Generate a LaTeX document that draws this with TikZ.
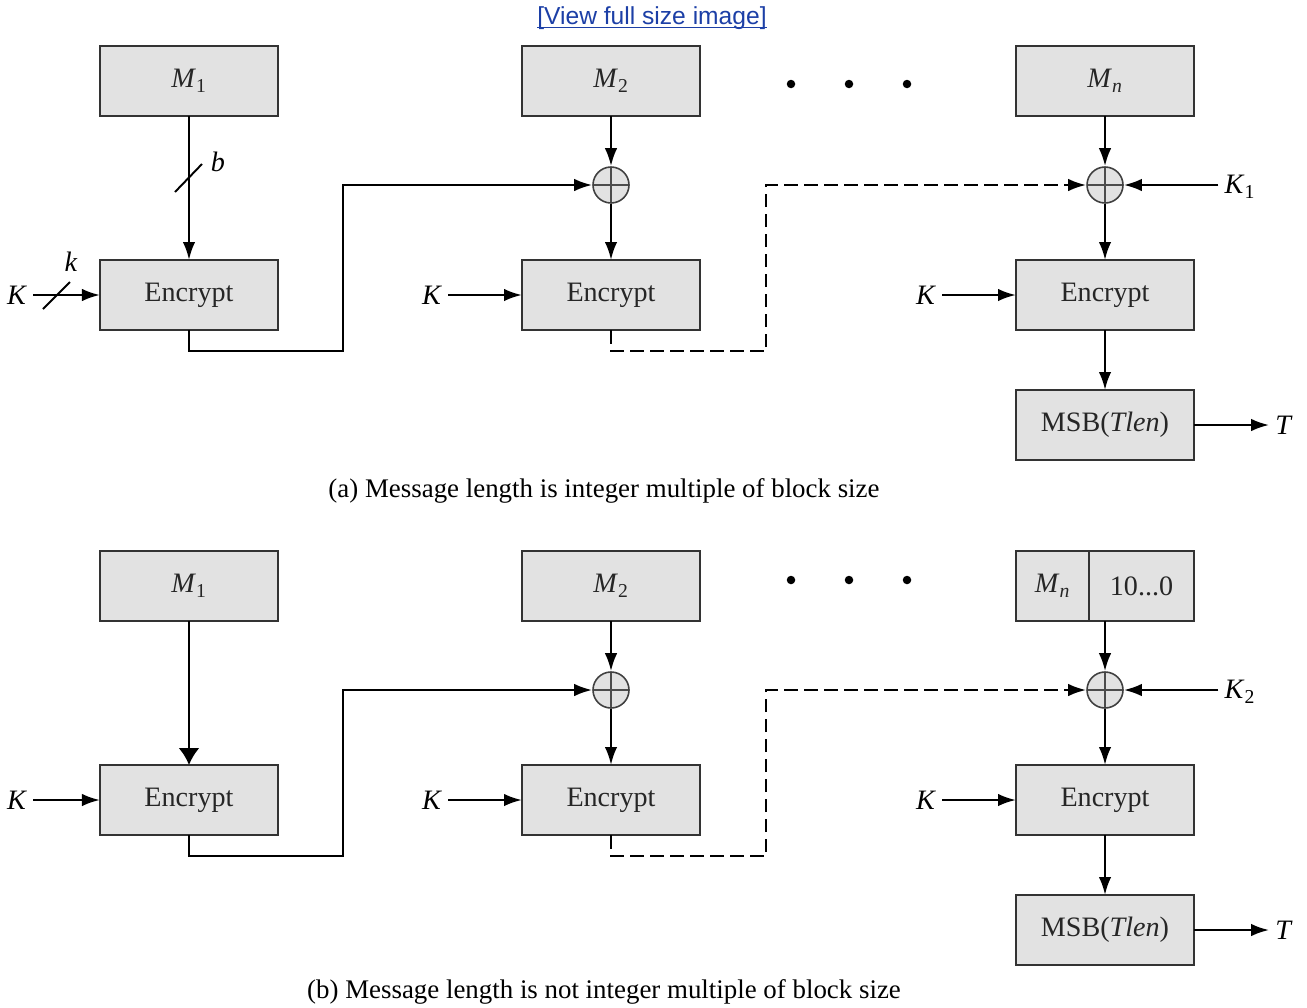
\documentclass[tikz,border=0pt]{standalone}
\usepackage{fontspec}
\setmainfont{Liberation Serif}
\newfontfamily\linkfont{Liberation Sans}
\usetikzlibrary{arrows.meta,positioning}
\definecolor{linkblue}{HTML}{1C3FA6}
\definecolor{boxgray}{HTML}{E2E2E2}

\begin{document}
\begin{tikzpicture}[x=0.2mm,y=-0.2mm,
  every node/.style={font=\fontsize{16}{19}\selectfont},
  box/.style={draw=black!80,fill=boxgray,line width=1.2pt,outer sep=0pt,minimum width=35.6mm,minimum height=14mm,inner sep=0pt,text=black!85},
  xorc/.style={circle,draw=black!75,fill=boxgray,line width=0.9pt,minimum size=7.2mm,inner sep=0pt,
    path picture={\draw[black!70,line width=0.7pt] (path picture bounding box.north) -- (path picture bounding box.south)
      (path picture bounding box.west) -- (path picture bounding box.east);}},
  caption/.style={font=\fontsize{15.3}{18}\selectfont},
  arr/.style={line width=1.4pt,-{Latex[length=3.6mm,width=2.5mm]}},
  dashline/.style={dash pattern=on 2.7mm off 1.3mm}]
  \useasboundingbox (0,0) rectangle (1307,1007);

  % Link text
  \node[font=\linkfont\fontsize{14}{16}\selectfont,text=linkblue,inner sep=0pt] (link) at (652,18) {[View full size image]};
  \draw[linkblue,line width=0.6pt] ([yshift=-2pt]link.base west) -- ([yshift=-2pt]link.base east);

  %%% (a) Message length is integer multiple of block size
  % Message blocks
  \node[box] (m1a) at (189,81) {\textit{M}\textsubscript{1}};
  \node[box] (m2a) at (611,81) {\textit{M}\textsubscript{2}};
  \node[box] (mna) at (1105,81) {\textit{M}\textsubscript{\textit{n}}};
  \fill (791,84) circle (0.85mm) (849,84) circle (0.85mm) (907,84) circle (0.85mm);

  % XOR
  \node[xorc] (xor2a) at (611,185) {};
  \node[xorc] (xorna) at (1105,185) {};

  % Encrypt
  \node[box] (enc1a) at (189,295) {Encrypt};
  \node[box] (enc2a) at (611,295) {Encrypt};
  \node[box] (encna) at (1105,295) {Encrypt};
  \node[box] (msba) at (1105,425) {MSB(\textit{Tlen})};

  % Keys
  \node (ka1) at (17,295) {\textit{K}};
  \node (ka2) at (432,295) {\textit{K}};
  \node (kan) at (926,295) {\textit{K}};
  \node (k1a) at (1240,187) {\textit{K}\textsubscript{1}};
  \node (ta) at (1284,425) {\textit{T}};

  \draw[arr] (ka1) -- (enc1a);
  \draw[arr] (ka2) -- (enc2a);
  \draw[arr] (kan) -- (encna);
  \draw[arr] (k1a.west |- xorna.east) -- (xorna.east);
  \draw[arr] (msba) -- (ta);

  % Bit widths
  \draw[line width=1.1pt] (43,309) -- (70,282);
  \node (kw) at (71,262) {\textit{k}};
  \draw[line width=1.1pt] (175,192) -- (202,164);
  \node (bw) at (218,162) {\textit{b}};

  % Vertical flow
  \draw[arr] (m1a) -- (enc1a);
  \draw[arr] (m2a) -- (xor2a);
  \draw[arr] (xor2a) -- (enc2a);
  \draw[arr] (mna) -- (xorna);
  \draw[arr] (xorna) -- (encna);
  \draw[arr] (encna) -- (msba);

  % Chaining
  \coordinate (c1a) at (343,351);
  \coordinate (c2a) at (766,351);
  \draw[arr] (enc1a.south) |- (c1a) |- (xor2a.west);
  \draw[arr,dashline] (enc2a.south) |- (c2a) |- (xorna.west);

  \node[caption] (capa) at (604,491) {(a) Message length is integer multiple of block size};

  %%% (b) Message length is not integer multiple of block size
  % Message blocks
  \node[box] (m1b) at (189,586) {\textit{M}\textsubscript{1}};
  \node[box] (m2b) at (611,586) {\textit{M}\textsubscript{2}};
  \node[box,minimum width=14.6mm] (mnb) at (1052.5,586) {\textit{M}\textsubscript{\textit{n}}};
  \node[box,minimum width=21mm,right=0pt of mnb] (padb) {10...0};
  \fill (791,580) circle (0.85mm) (849,580) circle (0.85mm) (907,580) circle (0.85mm);

  % XOR
  \node[xorc] (xor2b) at (611,690) {};
  \node[xorc] (xornb) at (1105,690) {};

  % Encrypt
  \node[box] (enc1b) at (189,800) {Encrypt};
  \node[box] (enc2b) at (611,800) {Encrypt};
  \node[box] (encnb) at (1105,800) {Encrypt};
  \node[box] (msbb) at (1105,930) {MSB(\textit{Tlen})};

  % Keys
  \node (kb1) at (17,800) {\textit{K}};
  \node (kb2) at (432,800) {\textit{K}};
  \node (kbn) at (926,800) {\textit{K}};
  \node (k2b) at (1240,692) {\textit{K}\textsubscript{2}};
  \node (tb) at (1284,930) {\textit{T}};

  \draw[arr] (kb1) -- (enc1b);
  \draw[arr] (kb2) -- (enc2b);
  \draw[arr] (kbn) -- (encnb);
  \draw[arr] (k2b.west |- xornb.east) -- (xornb.east);
  \draw[arr] (msbb) -- (tb);

  % Vertical flow
  \draw[line width=1.4pt,-{Latex[length=3.4mm,width=4.2mm]}] (m1b) -- (enc1b);
  \draw[arr] (m2b) -- (xor2b);
  \draw[arr] (xor2b) -- (enc2b);
  \draw[arr] (xornb.north |- padb.south) -- (xornb);
  \draw[arr] (xornb) -- (encnb);
  \draw[arr] (encnb) -- (msbb);

  % Chaining
  \coordinate (c1b) at (343,856);
  \coordinate (c2b) at (766,856);
  \draw[arr] (enc1b.south) |- (c1b) |- (xor2b.west);
  \draw[arr,dashline] (enc2b.south) |- (c2b) |- (xornb.west);

  \node[caption] (capb) at (604,992) {(b) Message length is not integer multiple of block size};
\end{tikzpicture}
\end{document}
